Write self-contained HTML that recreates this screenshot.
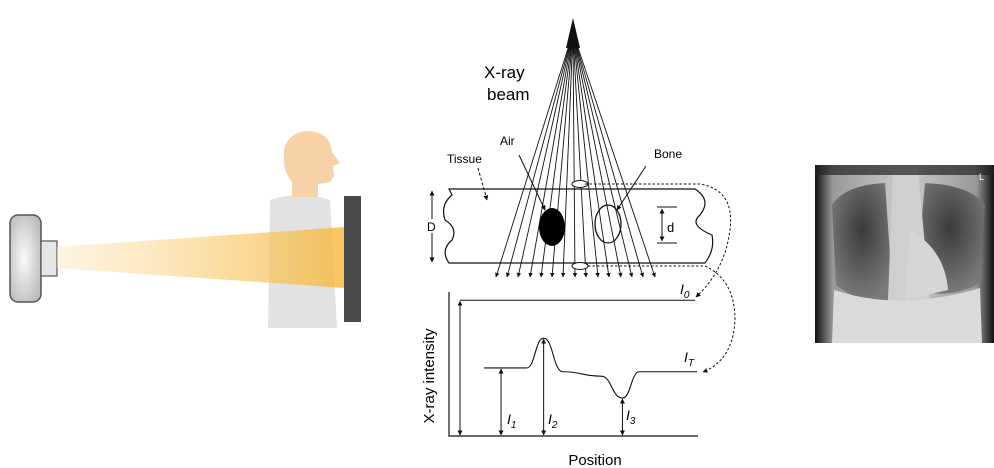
<!DOCTYPE html>
<html><head><meta charset="utf-8">
<style>
html,body{margin:0;padding:0;background:#fff;}
svg{display:block;font-family:"Liberation Sans",sans-serif;}
</style></head>
<body>
<svg id="fig" width="994" height="468" viewBox="0 0 994 468">
<defs>
<linearGradient id="beamG" x1="0" x2="1" y1="0" y2="0">
<stop offset="0" stop-color="#fde9c6" stop-opacity="0.6"/>
<stop offset="1" stop-color="#f7b838" stop-opacity="0.95"/>
</linearGradient>
<radialGradient id="camG" cx="0.45" cy="0.5" r="0.6">
<stop offset="0" stop-color="#fafafa"/><stop offset="1" stop-color="#bdbdbd"/>
</radialGradient>
<radialGradient id="lungL" cx="0.5" cy="0.4" r="0.6">
<stop offset="0" stop-color="#3a3a3a"/><stop offset="1" stop-color="#7a7a7a"/>
</radialGradient>
<linearGradient id="bodyG" x1="0" x2="1">
<stop offset="0" stop-color="#111"/><stop offset="0.1" stop-color="#999"/><stop offset="0.5" stop-color="#ccc"/><stop offset="0.9" stop-color="#999"/><stop offset="1" stop-color="#111"/>
</linearGradient>
<marker id="ah" viewBox="0 0 10 10" refX="9" refY="5" markerWidth="5" markerHeight="5" orient="auto-start-reverse"><path d="M0,0 L10,5 L0,10 z" fill="#111"/></marker>
</defs>

<g>
<rect x="10" y="215" width="31" height="87" rx="8" fill="url(#camG)" stroke="#555" stroke-width="1.5"/>
<rect x="41" y="241" width="16" height="35" fill="#e6e6e6" stroke="#555" stroke-width="1.2"/>
<path d="M270,200 Q300,190 330,200 L337,328 L268,328 Z" fill="#e2e2e2"/>
<path d="M292,197 L292,182 Q282,170 284,150 Q288,132 308,131 Q330,132 332,152 L340,163 L333,166 L334,176 L330,182 L318,184 L318,197 Z" fill="#f6d2a6"/>
<path d="M57,247 L345,227 L345,288 L57,268 Z" fill="url(#beamG)" opacity="0.85"/>
<rect x="344" y="196" width="17" height="126" fill="#4a4a4a"/>
</g>

<g id="mid">
<path d="M573,18 L566,48 L580,48 Z" fill="#111"/>
<text x="484" y="78" font-size="17">X-ray</text>
<text x="487" y="100" font-size="17">beam</text>
<text x="500" y="145" font-size="12">Air</text>
<text x="447" y="163" font-size="12">Tissue</text>
<text x="654" y="158" font-size="12">Bone</text>
<g id="rays" stroke="#111" stroke-width="0.9" fill="none"></g>
<path d="M449,189 L695,189 Q712,200 700,215 Q688,225 712,235 Q715,250 705,263 L449,263 Q440,250 452,240 Q458,228 445,220 Q440,205 452,195 Z" fill="none" stroke="#111" stroke-width="1.2"/>
<ellipse cx="552" cy="227" rx="13" ry="19" fill="#000"/>
<ellipse cx="608" cy="224" rx="13" ry="19" fill="none" stroke="#111" stroke-width="1.3"/>
<ellipse cx="580" cy="184" rx="8" ry="3.5" fill="#fff" stroke="#111"/>
<ellipse cx="580" cy="266" rx="8" ry="3.5" fill="#fff" stroke="#111"/>
<line x1="519" y1="155" x2="545" y2="210" stroke="#111" marker-end="url(#ah)"/>
<line x1="478" y1="168" x2="487" y2="200" stroke="#111" stroke-dasharray="3,2" marker-end="url(#ah)"/>
<line x1="646" y1="166" x2="617" y2="210" stroke="#111" marker-end="url(#ah)"/>
<line x1="432" y1="191" x2="432" y2="262" stroke="#111" marker-start="url(#ah)" marker-end="url(#ah)"/>
<rect x="428" y="219" width="9" height="14" fill="#fff"/>
<text x="427" y="231" font-size="12">D</text>
<line x1="657" y1="207" x2="677" y2="207" stroke="#111"/><line x1="657" y1="243" x2="677" y2="243" stroke="#111"/>
<line x1="662" y1="209" x2="662" y2="241" stroke="#111" marker-start="url(#ah)" marker-end="url(#ah)"/>
<text x="667" y="232" font-size="13">d</text>
<path d="M585,184 L700,184 Q735,190 730,230 Q725,270 696,297" fill="none" stroke="#111" stroke-dasharray="2.5,2" marker-end="url(#ah)"/>
<path d="M588,266 L705,266 Q735,280 735,320 Q733,360 703,372" fill="none" stroke="#111" stroke-dasharray="2.5,2" marker-end="url(#ah)"/>
<g id="plot"></g>
<text x="595" y="465" font-size="15" text-anchor="middle">Position</text>
<text transform="translate(434,376) rotate(-90)" font-size="15" text-anchor="middle">X-ray intensity</text>
</g>

<g>
<rect x="815" y="165" width="179" height="178" fill="url(#bodyG)"/>
<path d="M832,205 Q845,185 885,183 L893,300 Q860,305 836,285 Z" fill="url(#lungL)"/>
<path d="M985,205 Q970,185 925,183 L915,290 Q950,300 980,283 Z" fill="url(#lungL)"/>
<path d="M893,170 L918,170 L930,300 Q900,310 888,300 Z" fill="#cfcfcf"/>
<path d="M910,230 Q945,250 948,290 L905,300 Z" fill="#d6d6d6"/>
<path d="M834,290 Q900,312 980,288 L982,343 L832,343 Z" fill="#dadada"/>
<rect x="815" y="165" width="179" height="10" fill="#222" opacity="0.7"/>
<text x="979" y="180" font-size="9" fill="#fff">L</text>
</g>
</svg>
<script>
const rayEnds = [496,507,518,530,541,552,563,575,586,598,609,621,632,643,655];
const apex = [573,40];
const raysG = document.getElementById('rays');
rayEnds.forEach((x,i)=>{
  const l = document.createElementNS('http://www.w3.org/2000/svg','line');
  l.setAttribute('x1',apex[0]+(x-575)*0.03);l.setAttribute('y1',apex[1]);
  l.setAttribute('x2',x);l.setAttribute('y2',277);
  l.setAttribute('marker-end','url(#ah)');
  
  
  raysG.appendChild(l);
});

// intensity profile data
const positions = [0, 0.2, 0.28, 0.37, 0.55, 0.65, 0.73, 1.0];
const transmitted = [0.466, 0.466, 0.67, 0.44, 0.41, 0.26, 0.44, 0.44];
const incident = 0.93;
const ticks = ['I1','I2','I3'];
const x0=484,x1=697,yb=436,yt=290;
const sx = p => x0 + p*(x1-x0);
const sy = v => yb - v*(yb-yt);
const NS='http://www.w3.org/2000/svg';
const plot=document.getElementById('plot');
function mk(tag,attrs){const e=document.createElementNS(NS,tag);for(const k in attrs)e.setAttribute(k,attrs[k]);plot.appendChild(e);return e;}
const ax=mk('path',{d:'M449,292 L449,436 L698,436',fill:'none',stroke:'#111','stroke-width':1.2});


const i0=mk('line',{x1:460,y1:sy(incident),x2:695,y2:sy(incident),stroke:'#111'});


let d='M'+sx(positions[0])+','+sy(transmitted[0]);
for(let i=1;i<positions.length;i++){
  const px=sx(positions[i-1]),py=sy(transmitted[i-1]),cx=sx(positions[i]),cy=sy(transmitted[i]);
  const mx=(px+cx)/2;
  d+=` C${mx},${py} ${mx},${cy} ${cx},${cy}`;
}
const cur=mk('path',{d,fill:'none',stroke:'#111','stroke-width':1.1});


function varrow(x,v){const a=mk('line',{x1:x,y1:yb-1,x2:x,y2:sy(v)+1,stroke:'#111','marker-start':'url(#ah)','marker-end':'url(#ah)'});

}
varrow(460,incident);
varrow(sx(0.08),transmitted[1]);
varrow(sx(positions[2]),transmitted[2]);
varrow(sx(positions[5]),transmitted[5]);
function lbl(x,y,t,sub){const e=mk('text',{x,y,'font-size':14,'font-style':'italic'});e.textContent='I';const s=document.createElementNS(NS,'tspan');s.setAttribute('font-size',10);s.setAttribute('dy',4);s.textContent=sub;e.appendChild(s);

}
lbl(507,424,ticks[0],'1');lbl(548,424,ticks[1],'2');lbl(626,420,ticks[2],'3');
lbl(680,294,'I0','0');lbl(684,362,'IT','T');
</script>
</body></html>
